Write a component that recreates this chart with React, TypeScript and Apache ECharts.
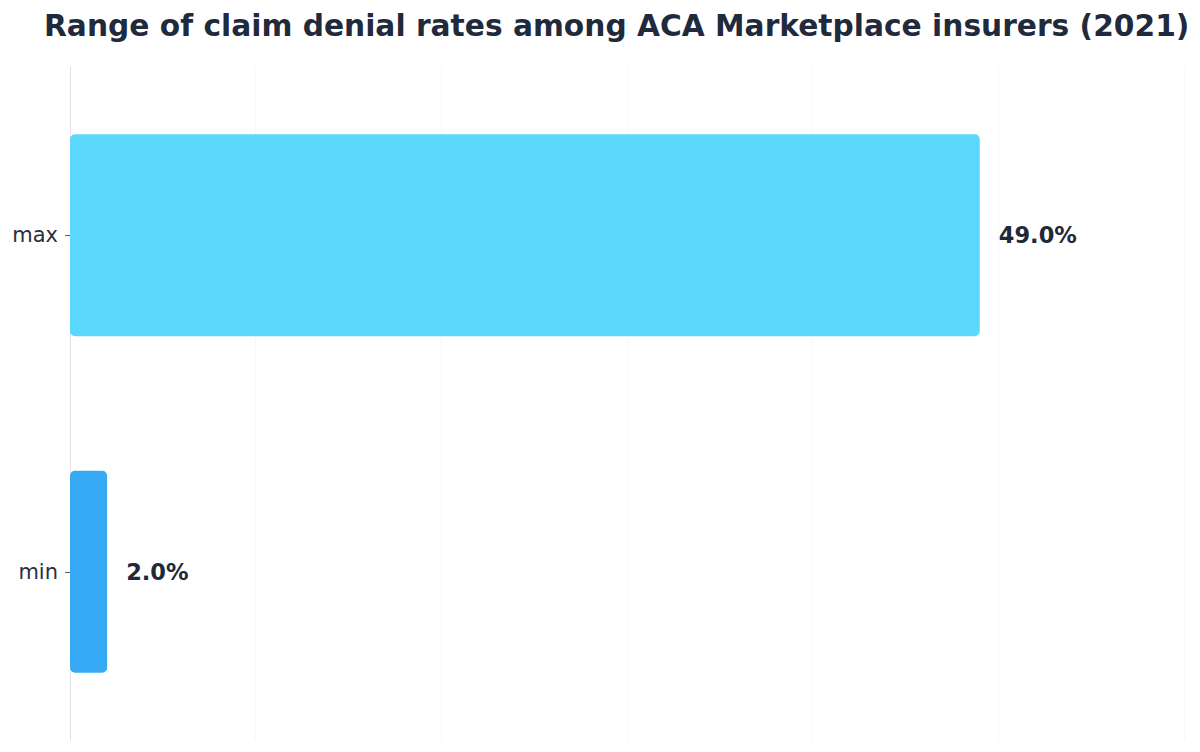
import React, { useEffect, useRef } from "react";
import * as echarts from "echarts";

const categories = ["min", "max"];
const values = [2.0, 49.0];
const barColors = ["#36aaf5", "#5bd8fc"];
const titleText = "Range of claim denial rates among ACA Marketplace insurers (2021)";

export default function App() {
  const ref = useRef<HTMLDivElement>(null);
  useEffect(() => {
    if (!ref.current) return;
    const chart = echarts.init(ref.current, undefined, { renderer: "svg" });
    chart.setOption({
      animation: false,
      backgroundColor: "#ffffff",
      title: {
        text: titleText,
        left: 39,
        top: 5,
        textStyle: {
          fontFamily: "DejaVu Sans",
          fontWeight: "bold",
          fontSize: 29.7,
          color: "#1f2a3c",
        },
      },
      grid: {
        left: 70,
        right: 16,
        top: 67,
        bottom: 12,
        containLabel: false,
        outerBoundsMode: "none",
      },
      xAxis: {
        type: "value",
        min: 0,
        max: 60,
        interval: 10,
        axisLabel: { show: false },
        axisLine: { show: false },
        axisTick: { show: false },
        splitLine: { show: true, lineStyle: { color: "#f6f7f9", width: 1 } },
      },
      yAxis: {
        type: "category",
        data: categories,
        axisLine: { show: true, lineStyle: { color: "#dfe1e6", width: 1 } },
        axisTick: { show: true, alignWithLabel: true, length: 5, lineStyle: { color: "#555b66" } },
        axisLabel: {
          fontFamily: "DejaVu Sans",
          fontSize: 21,
          color: "#2b303b",
          margin: 12,
        },
        splitLine: { show: false },
      },
      series: [
        {
          type: "bar",
          data: values.map((v, i) => ({ value: v, itemStyle: { color: barColors[i] } })),
          barWidth: "60%",
          itemStyle: { borderRadius: 5 },
          label: {
            show: true,
            position: "right",
            distance: 19,
            fontFamily: "DejaVu Sans",
            fontWeight: "bold",
            fontSize: 22.5,
            color: "#1f2937",
            formatter: (p: any) => `${Number(p.value).toFixed(1)}%`,
          },
        },
      ],
    });
    return () => chart.dispose();
  }, []);
  return (
    <div
      ref={ref}
      style={{ position: "fixed", left: 0, top: 0, width: 1200, height: 752 }}
    />
  );
}
